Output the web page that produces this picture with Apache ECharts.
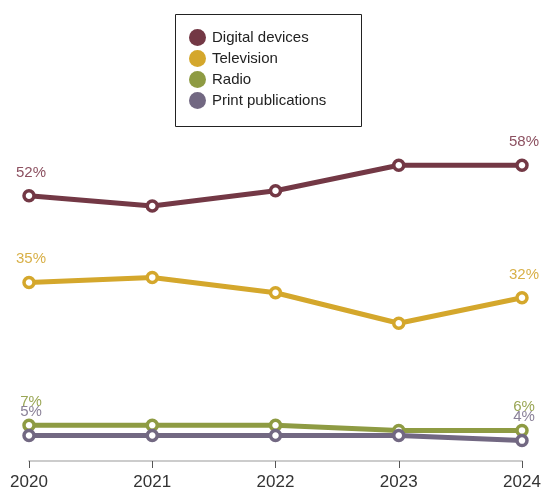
<!DOCTYPE html>
<html>
<head>
<meta charset="utf-8">
<script src="https://cdn.jsdelivr.net/npm/echarts@6/dist/echarts.min.js"></script>
<style>
  html, body { margin: 0; padding: 0; background: #fff; }
  #chart { width: 542px; height: 489px; }
</style>
</head>
<body>
<div id="chart"></div>
<script>
const years = ['2020', '2021', '2022', '2023', '2024'];
const digitalDevices = [52, 50, 53, 58, 58];
const television = [35, 36, 33, 27, 32];
const radio = [7, 7, 7, 6, 6];
const printPublications = [5, 5, 5, 5, 4];

const FONT = '"Liberation Sans", Arial, sans-serif';

function makeSeries(name, data, color, labelColor) {
  return {
    name: name,
    type: 'line',
    data: data,
    symbol: 'circle',
    symbolSize: 10,
    lineStyle: { color: color, width: 5 },
    itemStyle: { color: '#fff', borderColor: color, borderWidth: 3.5 },
    label: {
      show: true,
      position: 'top',
      distance: 9,
      offset: [2, 0],
      color: labelColor,
      fontFamily: FONT,
      fontSize: 15,
      formatter: function (p) {
        return (p.dataIndex === 0 || p.dataIndex === data.length - 1) ? p.value + '%' : '';
      }
    },
    emphasis: { disabled: true },
    animation: false
  };
}

const chart = echarts.init(document.getElementById('chart'));
chart.setOption({
  backgroundColor: '#fff',
  grid: { left: 29, right: 20, top: 155, bottom: 28, outerBoundsMode: 'none', containLabel: false },
  graphic: [{
    type: 'rect',
    shape: { x: 175.5, y: 14.5, width: 186, height: 112 },
    style: { fill: '#fff', stroke: '#222', lineWidth: 1 },
    z: -1
  }],
  legend: {
    orient: 'vertical',
    left: 184,
    top: 24,
    icon: 'circle',
    itemWidth: 17,
    itemHeight: 17,
    itemGap: 4,
    textStyle: { fontFamily: FONT, fontSize: 15, color: '#222', padding: [0, 0, 0, 1] },
    selectedMode: false,
    data: [
      { name: 'Digital devices', itemStyle: { color: '#733845', borderWidth: 0 } },
      { name: 'Television', itemStyle: { color: '#d4a72c', borderWidth: 0 } },
      { name: 'Radio', itemStyle: { color: '#8e9b43', borderWidth: 0 } },
      { name: 'Print publications', itemStyle: { color: '#726882', borderWidth: 0 } }
    ]
  },
  xAxis: {
    type: 'category',
    data: years,
    boundaryGap: false,
    axisLine: { lineStyle: { color: '#cccccc', width: 2 } },
    axisTick: { show: true, length: 7, lineStyle: { color: '#555', width: 1 } },
    axisLabel: { color: '#333', fontFamily: FONT, fontSize: 17, margin: 13 }
  },
  yAxis: {
    type: 'value',
    min: 0,
    max: 60,
    show: false,
    splitLine: { show: false }
  },
  series: [
    makeSeries('Digital devices', digitalDevices, '#733845', '#8c5060'),
    makeSeries('Television', television, '#d4a72c', '#d8b048'),
    makeSeries('Radio', radio, '#8e9b43', '#9aa655'),
    makeSeries('Print publications', printPublications, '#726882', '#8a8198')
  ]
});
</script>
</body>
</html>
